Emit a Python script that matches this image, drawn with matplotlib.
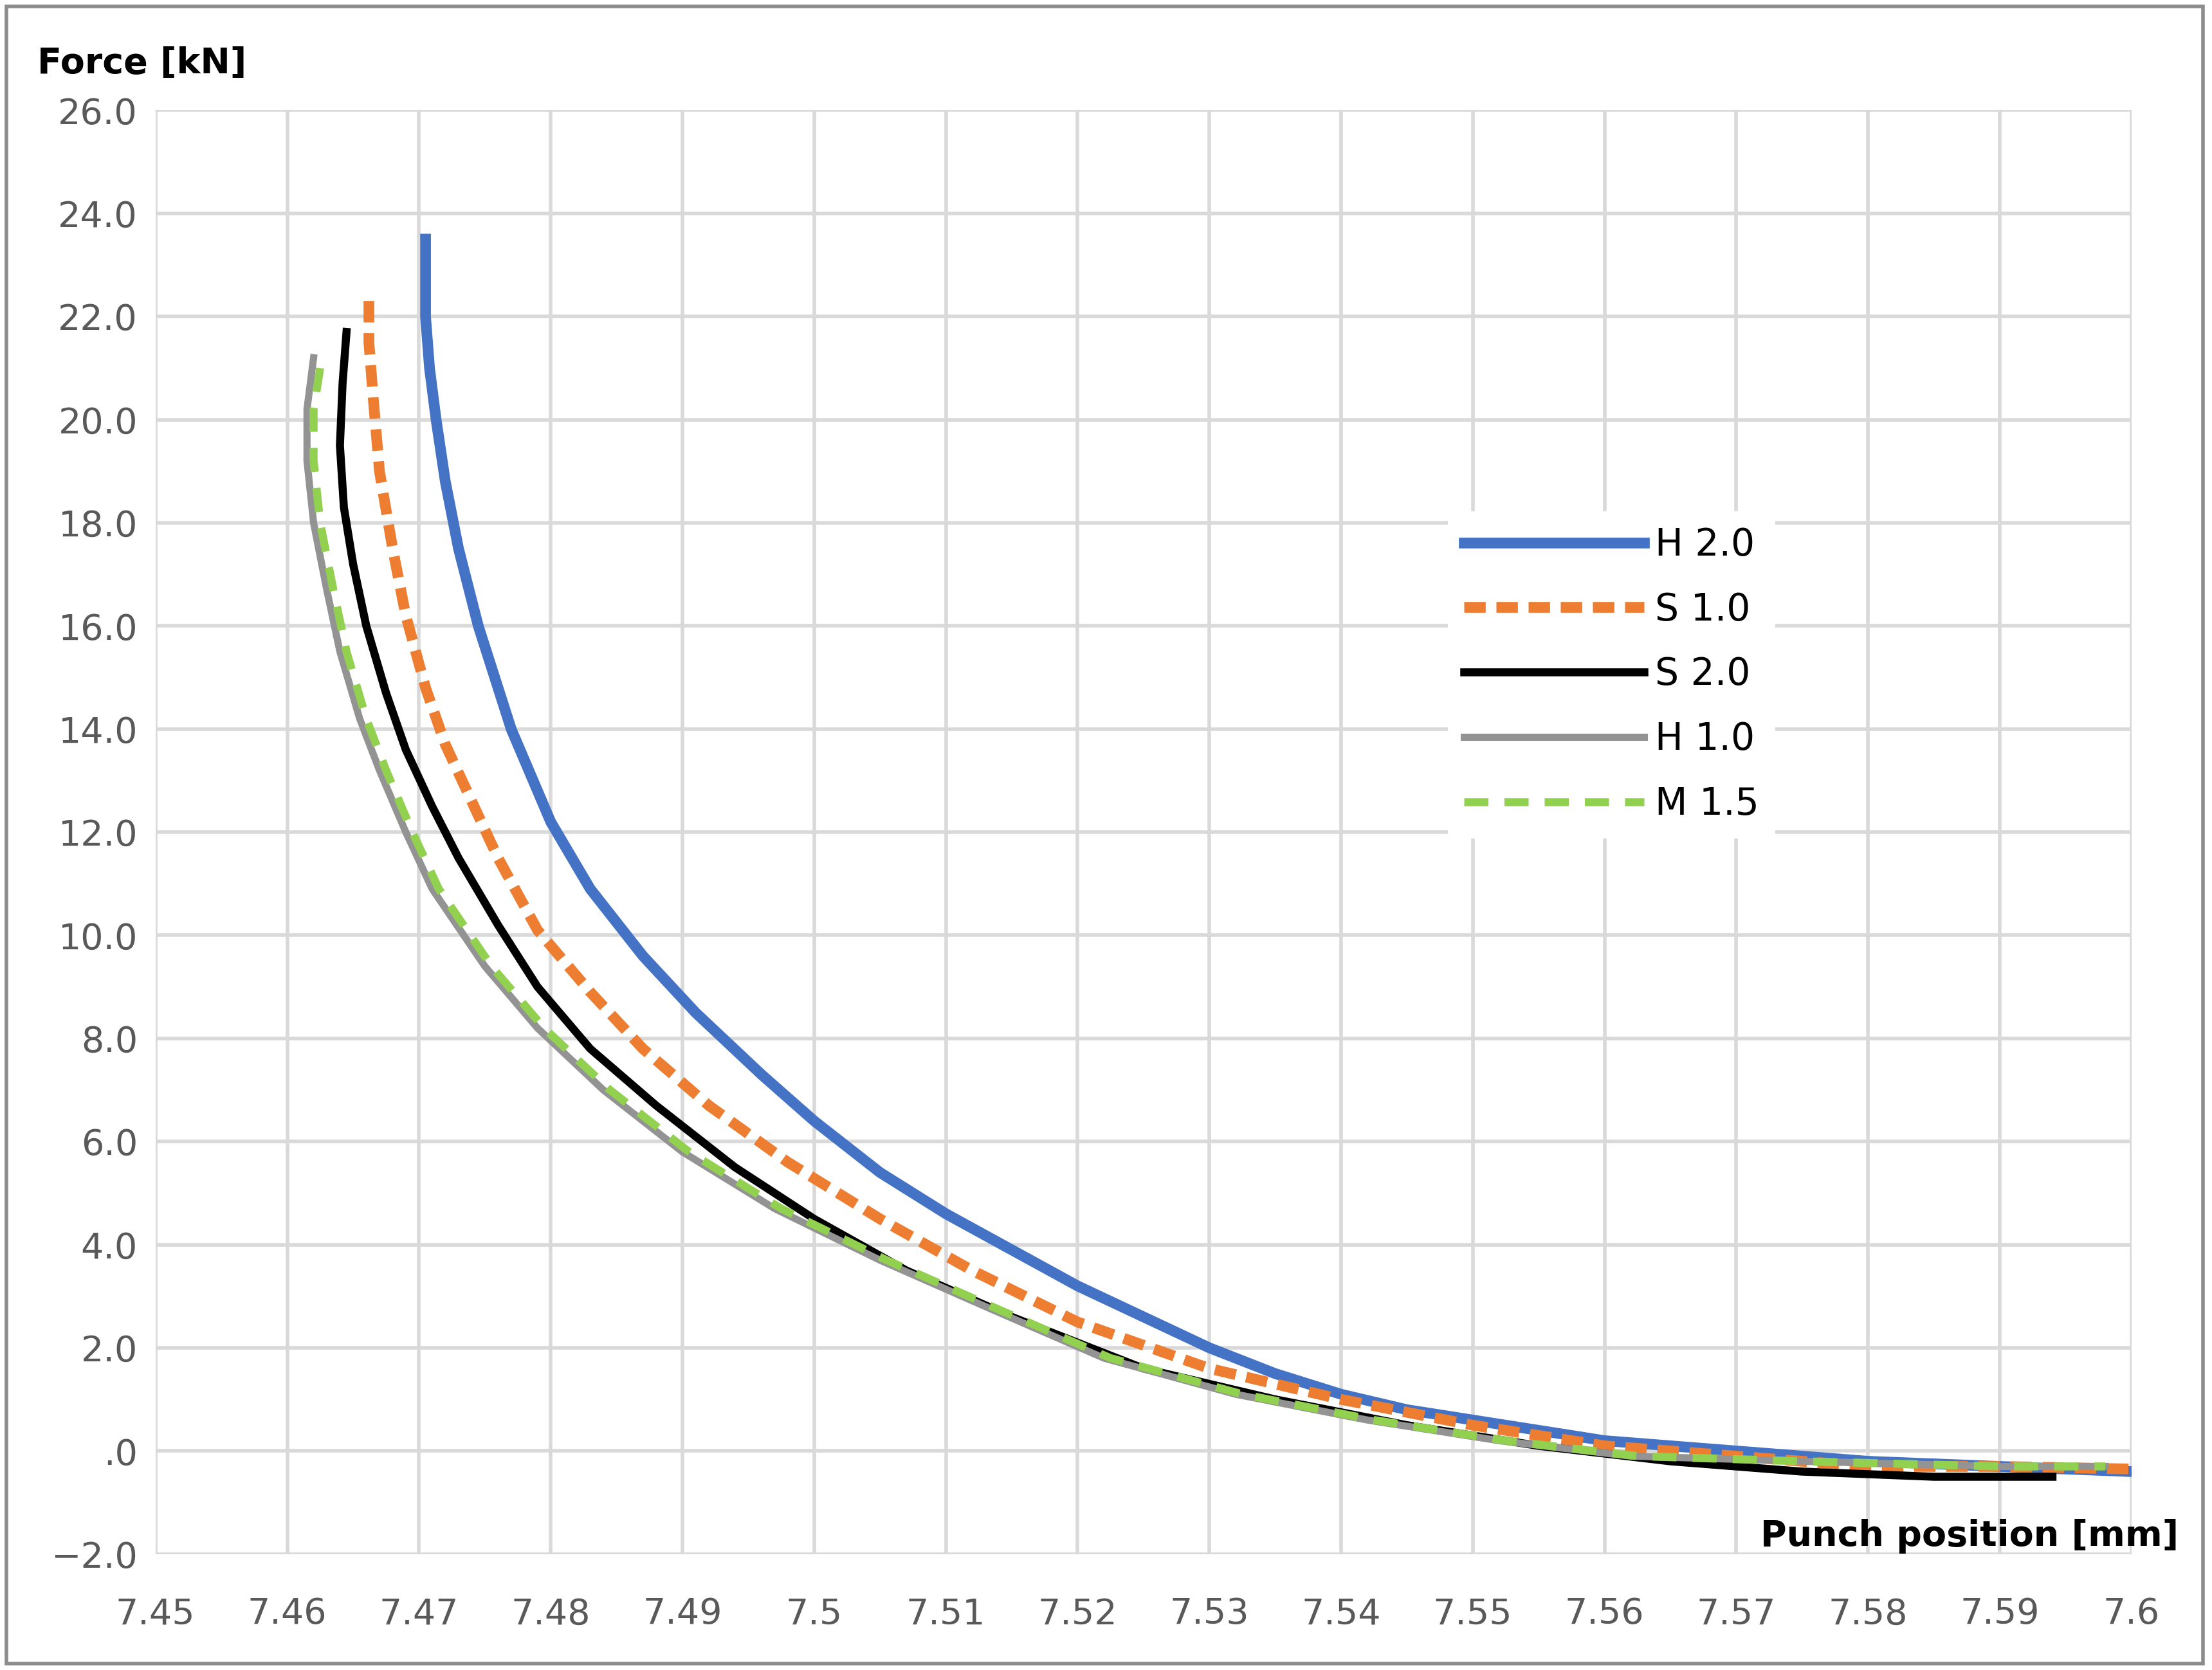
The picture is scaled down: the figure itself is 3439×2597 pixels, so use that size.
import matplotlib
matplotlib.use("Agg")
import matplotlib.pyplot as plt
from matplotlib.ticker import FuncFormatter
import matplotlib.patches as mpatches

h20_x = [7.4705,7.4705,7.4708,7.4713,7.472,7.473,7.4745,7.477,7.480,7.483,7.487,7.491,7.496,7.500,7.505,7.510,7.515,7.520,7.525,7.530,7.535,7.540,7.545,7.550,7.555,7.560,7.570,7.580,7.590,7.600]
h20_y = [23.5,22,21,20,18.8,17.5,16,14,12.2,10.9,9.6,8.5,7.3,6.4,5.4,4.6,3.9,3.2,2.6,2.0,1.5,1.1,0.8,0.6,0.4,0.2,0.0,-0.2,-0.3,-0.4]
s10_x = [7.4662,7.4662,7.4665,7.467,7.468,7.469,7.4705,7.472,7.474,7.476,7.479,7.483,7.487,7.492,7.498,7.505,7.512,7.520,7.530,7.540,7.550,7.560,7.570,7.580,7.590,7.600]
s10_y = [22.3,21.5,20.5,19,17.5,16.2,14.8,13.7,12.6,11.5,10.1,8.9,7.8,6.7,5.6,4.5,3.5,2.5,1.6,1.0,0.5,0.1,-0.1,-0.3,-0.3,-0.35]
s20_x = [7.4645,7.4642,7.464,7.4643,7.465,7.466,7.4675,7.469,7.471,7.473,7.476,7.479,7.483,7.488,7.494,7.500,7.507,7.515,7.525,7.535,7.545,7.555,7.565,7.575,7.585,7.594]
s20_y = [21.7,20.7,19.5,18.3,17.2,16,14.7,13.6,12.5,11.5,10.2,9,7.8,6.7,5.5,4.5,3.5,2.6,1.6,1.0,0.5,0.1,-0.2,-0.4,-0.5,-0.5]
h10_x = [7.462,7.4615,7.4615,7.462,7.463,7.464,7.4655,7.467,7.469,7.471,7.475,7.479,7.484,7.490,7.497,7.505,7.513,7.522,7.532,7.542,7.552,7.562,7.575,7.590,7.598]
h10_y = [21.2,20.2,19.2,18,16.7,15.5,14.2,13.2,12,10.9,9.4,8.2,7.0,5.8,4.7,3.7,2.8,1.8,1.1,0.6,0.2,-0.1,-0.2,-0.3,-0.3]
m15_x = [7.4625,7.462,7.462,7.4625,7.4635,7.4645,7.466,7.4675,7.4695,7.4715,7.4755,7.4795,7.4845,7.4905,7.4975,7.5055,7.5135,7.5225,7.5325,7.5425,7.5525,7.5625,7.575,7.590,7.598]
m15_y = [21.0,20.2,19.2,18,16.7,15.5,14.2,13.2,12,10.9,9.4,8.2,7.0,5.8,4.7,3.7,2.8,1.8,1.1,0.6,0.2,-0.1,-0.2,-0.3,-0.3]

fig = plt.figure(figsize=(17.195, 12.985), dpi=200)
ax = fig.add_axes([0.0703, 0.0694, 0.8933, 0.8646])
ax.plot(h20_x, h20_y, color="#4472C4", lw=6, label="H 2.0")
ax.plot(s10_x, s10_y, color="#ED7D31", lw=6, ls=(0,(2,1)), label="S 1.0")
ax.plot(s20_x, s20_y, color="black", lw=4.5, label="S 2.0")
ax.plot(h10_x, h10_y, color="#939393", lw=4, label="H 1.0")
ax.plot(m15_x, m15_y, color="#92D050", lw=4.5, ls=(0,(3,2)), label="M 1.5")

ax.set_xlim(7.45, 7.6)
ax.set_ylim(-2, 26)
ax.set_xticks([7.45+0.01*i for i in range(16)])
ax.set_xticklabels(["7.45","7.46","7.47","7.48","7.49","7.5","7.51","7.52","7.53","7.54","7.55","7.56","7.57","7.58","7.59","7.6"])
ax.set_yticks(range(-2, 27, 2))
ax.yaxis.set_major_formatter(FuncFormatter(lambda v, p: ".0" if v == 0 else ("\u2212%.1f" % -v if v < 0 else "%.1f" % v)))
ax.grid(True, color="#D9D9D9", lw=2)
ax.set_axisbelow(True)
for s in ax.spines.values():
    s.set_visible(False)
ax.tick_params(axis="x", length=0, labelsize=20, colors="#595959", pad=24)
ax.tick_params(axis="y", length=0, labelsize=20, colors="#595959", pad=10)

fig.text(0.017, 0.962, "Force [kN]", fontsize=20, fontweight="bold", va="center")
fig.text(0.985, 0.08, "Punch position [mm]", fontsize=20, fontweight="bold", ha="right", va="center")

leg = ax.legend(loc="upper left", bbox_to_anchor=(0.645, 0.735), fontsize=21, frameon=True,
                fancybox=False, edgecolor="white", framealpha=1, handlelength=4.8, labelspacing=0.75,
                handletextpad=0.3)
fig.patches.append(mpatches.Rectangle((0.003, 0.004), 0.993, 0.992, transform=fig.transFigure,
                                      fill=False, edgecolor="#8C8C8C", lw=2))
fig.savefig("out.png", dpi=200)
